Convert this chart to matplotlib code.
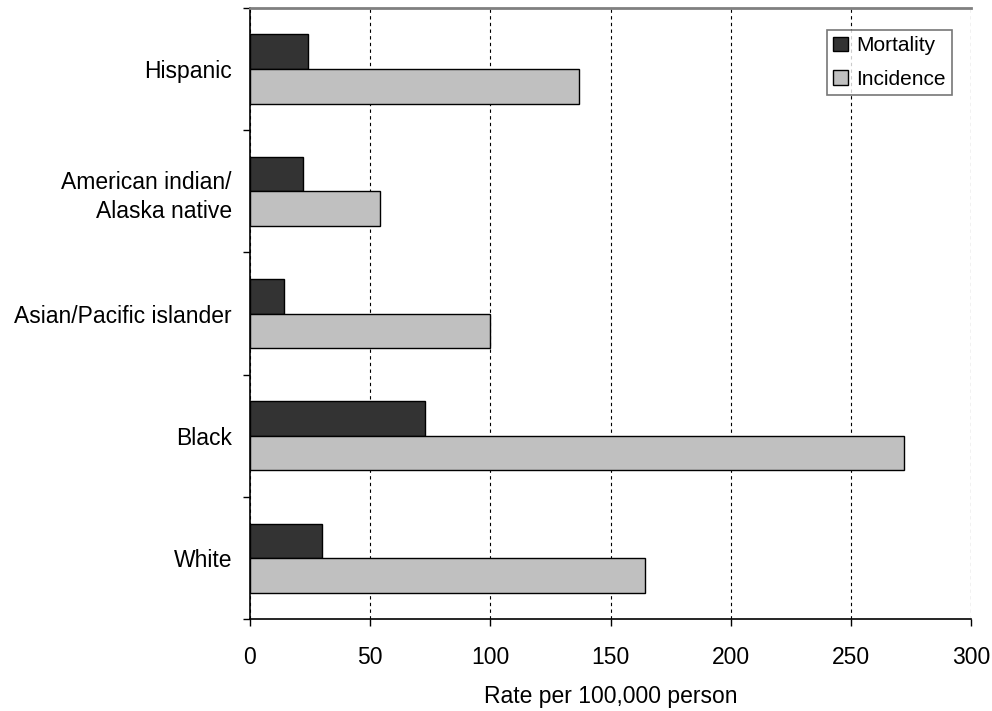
import matplotlib
matplotlib.use("Agg")
import matplotlib.pyplot as plt
import numpy as np

plt.rcParams['font.family'] = ['Liberation Sans', 'DejaVu Sans']

# categories listed bottom to top
groups = ['White', 'Black', 'Asian/Pacific islander',
          'American indian/\nAlaska native', 'Hispanic']
mortality = [30, 73, 14, 22, 24]
incidence = [164.5, 272, 100, 54, 137]
xticks = [0, 50, 100, 150, 200, 250, 300]

fig = plt.figure(figsize=(9.92, 7.11), dpi=100)
ax = fig.add_axes([0.252, 0.129, 0.727, 0.860])

y = np.arange(len(groups))
h = 0.283
ax.barh(y + h / 2, mortality, height=h, color='#333333', edgecolor='black',
        linewidth=1.0, label='Mortality', zorder=3)
ax.barh(y - h / 2, incidence, height=h, color='#c0c0c0', edgecolor='black',
        linewidth=1.0, label='Incidence', zorder=3)

ax.set_xlim(0, 300)
ax.set_ylim(-0.5, len(groups) - 0.5)
ax.set_xticks(xticks)
ax.set_xticklabels([str(v) for v in xticks], fontsize=16.5)
ax.tick_params(axis='x', direction='out', length=5, width=1, pad=14)

ax.set_yticks(y)
ax.set_yticklabels(groups, fontsize=16.5, linespacing=1.35)
ax.set_yticks(np.arange(-0.5, len(groups)), minor=True)
ax.tick_params(axis='y', which='major', length=0, pad=13)
ax.tick_params(axis='y', which='minor', direction='out', length=5, width=1)

ax.grid(axis='x', color='black', linestyle=(0, (3, 3)), linewidth=0.8, zorder=0)
ax.spines['right'].set_visible(False)
ax.spines['top'].set_color('#808080')
ax.spines['top'].set_linewidth(2)
ax.spines['left'].set_linewidth(1.2)
ax.spines['bottom'].set_linewidth(1.2)

ax.set_xlabel('Rate per 100,000 person', fontsize=16.5, labelpad=12)

leg = ax.legend(loc='upper right', bbox_to_anchor=(0.9736, 0.964), fontsize=15,
                frameon=True, fancybox=False, handlelength=0.7, handleheight=0.7,
                handletextpad=0.4, labelspacing=0.7, borderpad=0.3,
                borderaxespad=0)
leg.get_frame().set_edgecolor('#555555')
leg.get_frame().set_linewidth(1.2)

fig.savefig('out.png', dpi=100)
